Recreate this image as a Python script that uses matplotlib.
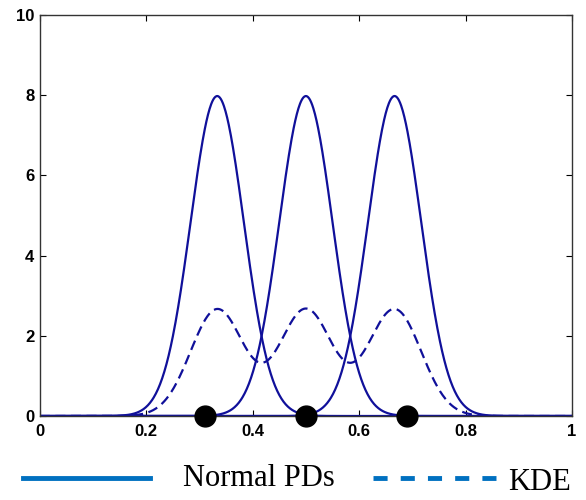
import numpy as np
import matplotlib.pyplot as plt
from matplotlib.lines import Line2D

# means and spread of the three normal PDs, read from the peaks (height ~8)
means = [1 / 3, 0.5, 2 / 3]
sigma = 0.05
samples = [0.31, 0.5, 0.69]  # black dots on the x axis

xticks = [0, 0.2, 0.4, 0.6, 0.8, 1]
xlabels = ['0', '0.2', '0.4', '0.6', '0.8', '1']
yticks = [0, 2, 4, 6, 8, 10]

line_col = '#10109a'
leg_col = '#0070c0'

fig = plt.figure(figsize=(5.86, 5.0), dpi=100)
ax = fig.add_axes([0.068, 0.168, 0.908, 0.802])

x = np.linspace(0, 1, 1001)
pdfs = []
for m in means:
    pdf = np.exp(-0.5 * ((x - m) / sigma) ** 2) / (sigma * np.sqrt(2 * np.pi))
    pdfs.append(pdf)
    ax.plot(x, pdf, color=line_col, lw=1.6)

# KDE = average of the three PDs
kde = np.mean(pdfs, axis=0)
ax.plot(x, kde, color=line_col, lw=1.6, dashes=(4.5, 2.5))

ax.plot(samples, np.zeros(len(samples)), 'o', color='black', ms=15, clip_on=False, zorder=5)

ax.set_xlim(0, 1)
ax.set_ylim(0, 10)
ax.set_xticks(xticks)
ax.set_xticklabels(xlabels)
ax.set_yticks(yticks)
ax.tick_params(direction='in', top=True, right=True, length=4, width=0.8,
               labelsize=12)
ax.tick_params(axis='x', pad=6)
ax.tick_params(axis='y', pad=4)
for lab in ax.get_xticklabels() + ax.get_yticklabels():
    lab.set_fontfamily('Liberation Sans')
    lab.set_fontweight('bold')
for s in ax.spines.values():
    s.set_color('#333333')
    s.set_linewidth(1.0)

# legend below the axes
fig.add_artist(Line2D([23 / 586, 150 / 586], [0.044, 0.044], color=leg_col, lw=3.5))
fig.text(183 / 586, 0.042, 'Normal PDs', family='Liberation Serif', fontsize=22,
         va='center', ha='left')
fig.add_artist(Line2D([373 / 586, 498 / 586], [0.044, 0.044], color=leg_col, lw=3.5,
                      dashes=(2.9, 2.7)))
fig.text(508 / 586, 0.034, 'KDE', family='Liberation Serif', fontsize=22,
         va='center', ha='left')

fig.savefig('out.png', dpi=100)
